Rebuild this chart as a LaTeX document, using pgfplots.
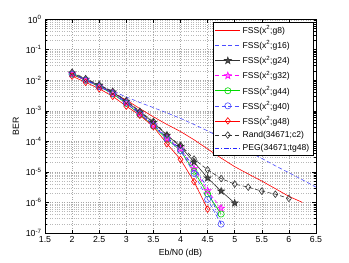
\documentclass[border=0pt]{standalone}
\usepackage{fontspec}
\setmainfont{Liberation Sans}
\usepackage{pgfplots}
\pgfplotsset{compat=1.18}
\pgfdeclareplotmark{pentagram}{%
  \pgfpathmoveto{\pgfpointpolar{90}{\pgfplotmarksize}}%
  \pgfpathlineto{\pgfpointpolar{126}{0.40\pgfplotmarksize}}%
  \pgfpathlineto{\pgfpointpolar{162}{\pgfplotmarksize}}%
  \pgfpathlineto{\pgfpointpolar{198}{0.40\pgfplotmarksize}}%
  \pgfpathlineto{\pgfpointpolar{234}{\pgfplotmarksize}}%
  \pgfpathlineto{\pgfpointpolar{270}{0.40\pgfplotmarksize}}%
  \pgfpathlineto{\pgfpointpolar{306}{\pgfplotmarksize}}%
  \pgfpathlineto{\pgfpointpolar{342}{0.40\pgfplotmarksize}}%
  \pgfpathlineto{\pgfpointpolar{18}{\pgfplotmarksize}}%
  \pgfpathlineto{\pgfpointpolar{54}{0.40\pgfplotmarksize}}%
  \pgfpathclose\pgfusepathqfillstroke}
\definecolor{mred}{rgb}{1,0,0}
\definecolor{mblue}{rgb}{0,0,1}
\definecolor{mgreen}{rgb}{0,1,0}
\definecolor{mmag}{rgb}{1,0,1}
\begin{document}
\begin{tikzpicture}
\useasboundingbox (0,0) rectangle (349bp,263bp);
\begin{axis}[
  at={(45bp,30bp)}, anchor=south west,
  scale only axis, width=271bp, height=214bp,
  xmin=1.5, xmax=6.5, ymode=log, ymin=1e-7, ymax=1,
  xtick={1.5,2,2.5,3,3.5,4,4.5,5,5.5,6,6.5},
  xticklabels={1.5,2,2.5,3,3.5,4,4.5,5,5.5,6,6.5},
  ytick={1e-7,1e-6,1e-5,1e-4,1e-3,1e-2,1e-1,1},
  yticklabels={10\textsuperscript{-7},10\textsuperscript{-6},10\textsuperscript{-5},10\textsuperscript{-4},10\textsuperscript{-3},10\textsuperscript{-2},10\textsuperscript{-1},10\textsuperscript{0}},
  tick label style={font=\fontsize{8.8}{10}\selectfont},
  label style={font=\fontsize{8.8}{10}\selectfont},
  xlabel={Eb/N0 (dB)}, ylabel={BER},
  tick align=inside,
  major tick length=3.5bp, minor tick length=2bp,
  xmajorgrids, ymajorgrids, yminorgrids,
  grid style={dotted, line width=0.4pt, black!35},
  minor grid style={dotted, line width=0.4pt, black!28},
  axis line style={line width=0.5pt},
  every tick/.style={black, line width=0.4pt},
  legend cell align=left,
  legend style={at={(0.989,0.986)}, anchor=north east,
    font=\fontsize{8.6}{9}\selectfont, draw=black, line width=0.5pt,
    inner sep=1.5pt, row sep=1.6pt},
  legend image code/.code={\draw[mark repeat=2,mark phase=2] plot coordinates {(0cm,0cm) (0.44cm,0cm) (0.88cm,0cm)};},
  every axis plot/.append style={line width=0.6pt},
  mdash/.style={dash pattern=on 4pt off 2.5pt},
  mdashdot/.style={dash pattern=on 4pt off 2pt on 1pt off 2pt},
]
% FSS g8
\addplot[mred, solid] coordinates {
(2,1.51e-2) (2.25,1.0e-2) (2.5,6.31e-3) (2.75,3.8e-3) (3,2.24e-3) (3.25,1.17e-3) (3.5,6.31e-4) (3.75,3.55e-4) (4,2.09e-4) (4.25,1.12e-4) (4.5,5.62e-5) (4.75,2.82e-5) (5,1.48e-5) (5.25,8.51e-6) (5.5,5.01e-6) (5.75,2.82e-6) (6,1.58e-6) (6.25,1.0e-6)};
\addlegendentry{FSS(x\textsuperscript{2};g8)}
% FSS g16
\addplot[mblue!70, mdash] coordinates {
(2,1.58e-2) (2.25,1.05e-2) (2.5,6.76e-3) (2.75,4.37e-3) (3,2.82e-3) (3.25,1.86e-3) (3.5,1.26e-3) (3.75,8.5e-4) (4,5.62e-4) (4.25,3.55e-4) (4.5,2.19e-4) (4.75,1.32e-4) (5,7.94e-5) (5.25,4.68e-5) (5.5,2.75e-5) (5.75,1.58e-5) (6,9.33e-6) (6.25,5.5e-6) (6.5,3.16e-6)};
\addlegendentry{FSS(x\textsuperscript{2};g16)}
% FSS g24
\addplot[black!80, solid, mark=pentagram, mark size=3.6pt, mark options={solid, fill=black!70}] coordinates {
(2,1.7e-2) (2.25,1.07e-2) (2.5,6.76e-3) (2.75,4.07e-3) (3,2.04e-3) (3.25,9.12e-4) (3.5,4.07e-4) (3.75,1.58e-4) (4,6.76e-5) (4.25,2.09e-5) (4.5,6.31e-6) (4.75,2.34e-6) (5,9.55e-7)};
\addlegendentry{FSS(x\textsuperscript{2};g24)}
% FSS g32
\addplot[mmag, mdash, mark=pentagram, mark size=3.6pt, mark options={solid, fill=mmag!45}] coordinates {
(2,1.62e-2) (2.25,1.02e-2) (2.5,6.31e-3) (2.75,3.72e-3) (3,1.82e-3) (3.25,7.94e-4) (3.5,3.39e-4) (3.75,1.26e-4) (4,5.62e-5) (4.25,1.26e-5) (4.5,2.4e-6) (4.75,6.46e-7)};
\addlegendentry{FSS(x\textsuperscript{2};g32)}
% FSS g44
\addplot[mgreen!85!black, solid, mark=o, mark size=3.1pt, mark options={solid}] coordinates {
(2,1.58e-2) (2.25,1.0e-2) (2.5,6.17e-3) (2.75,3.55e-3) (3,1.74e-3) (3.25,7.59e-4) (3.5,3.16e-4) (3.75,1.17e-4) (4,5.01e-5) (4.25,1.05e-5) (4.5,1.91e-6) (4.75,4.17e-7)};
\addlegendentry{FSS(x\textsuperscript{2};g44)}
% FSS g40
\addplot[mblue!70, mdash, mark=o, mark size=3.1pt, mark options={solid}] coordinates {
(2,1.58e-2) (2.25,1.0e-2) (2.5,6.17e-3) (2.75,3.63e-3) (3,1.78e-3) (3.25,7.76e-4) (3.5,3.24e-4) (3.75,1.2e-4) (4,5.01e-5) (4.25,8.91e-6) (4.5,1.26e-6) (4.75,1.95e-7)};
\addlegendentry{FSS(x\textsuperscript{2};g40)}
% FSS g48
\addplot[mred, solid, mark=diamond, mark size=3.3pt, mark options={solid}] coordinates {
(2,1.35e-2) (2.25,8.51e-3) (2.5,5.25e-3) (2.75,2.95e-3) (3,1.41e-3) (3.25,7.08e-4) (3.5,3.02e-4) (3.75,8.32e-5) (4,2.57e-5) (4.25,4.79e-6) (4.5,6.03e-7)};
\addlegendentry{FSS(x\textsuperscript{2};g48)}
% Rand
\addplot[black!80, mdash, mark=diamond, mark size=3.3pt, mark options={solid}] coordinates {
(2,1.82e-2) (2.25,1.12e-2) (2.5,7.08e-3) (2.75,4.27e-3) (3,2.14e-3) (3.25,9.55e-4) (3.5,4.47e-4) (3.75,1.58e-4) (4,7.41e-5) (4.25,2.63e-5) (4.5,1.17e-5) (4.75,6.03e-6) (5,3.98e-6) (5.25,3.16e-6) (5.5,2.34e-6) (5.75,1.86e-6) (6,1.35e-6)};
\addlegendentry{Rand(34671;c2)}
% PEG
\addplot[mblue!85, mdashdot] coordinates {
(2,1.62e-2) (2.25,1.02e-2) (2.5,6.31e-3) (2.75,3.8e-3) (3,1.91e-3) (3.25,8.51e-4) (3.5,3.55e-4) (3.75,1.32e-4) (4,5.62e-5) (4.25,1.41e-5) (4.5,3.02e-6) (4.75,2.0e-7)};
\addlegendentry{PEG(34671;tg48)}
\end{axis}
\end{tikzpicture}
\end{document}
